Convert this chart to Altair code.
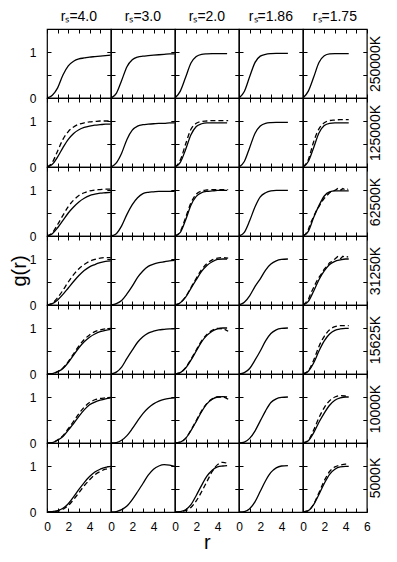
import altair as alt
import pandas as pd

COLUMN_LABELS = ["rₛ=4.0", "rₛ=3.0", "rₛ=2.0", "rₛ=1.86", "rₛ=1.75"]
ROW_LABELS = ["250000K", "125000K", "62500K", "31250K", "15625K", "10000K", "5000K"]

X_TICKS = [0, 1, 2, 3, 4, 5, 6]
Y_TICKS = [0, 0.5, 1]

# r grids (per column)
R_A = [0, 0.5, 1, 1.5, 2, 2.5, 3, 3.5, 4, 4.5, 5, 5.5, 6]
R_B = [0, 0.5, 1, 1.5, 2, 2.5, 3, 3.5, 4, 4.5, 4.9]
R_B_DASH = [0, 0.5, 1, 1.5, 2, 2.5, 3, 3.5, 4, 4.5, 5.0]
R_C = [0, 0.5, 1, 1.5, 2, 2.5, 3, 3.5, 4, 4.6]
R_D = [0, 0.5, 1, 1.5, 2, 2.5, 3, 3.5, 4, 4.3]
R_D_FINE = [0, 0.25, 0.5, 0.75, 1, 1.25, 1.5, 1.75, 2, 2.25, 2.5, 2.75, 3, 3.25, 3.5, 3.75, 4, 4.25]

# column rs=4.0
SOLID_C0 = [
    [0, 0.06, 0.22, 0.5, 0.7, 0.8, 0.85, 0.87, 0.89, 0.9, 0.91, 0.92, 0.93],
    [0, 0.06, 0.22, 0.42, 0.6, 0.73, 0.81, 0.86, 0.89, 0.91, 0.92, 0.93, 0.93],
    [0, 0.05, 0.18, 0.34, 0.5, 0.63, 0.74, 0.82, 0.88, 0.91, 0.93, 0.94, 0.95],
    [0, 0.03, 0.11, 0.23, 0.37, 0.51, 0.64, 0.75, 0.83, 0.88, 0.92, 0.95, 0.96],
    [0, 0.01, 0.05, 0.12, 0.25, 0.41, 0.57, 0.7, 0.8, 0.87, 0.92, 0.95, 0.97],
    [0, 0.01, 0.06, 0.14, 0.28, 0.42, 0.58, 0.72, 0.83, 0.89, 0.93, 0.96, 0.98],
    [0, 0.01, 0.03, 0.08, 0.18, 0.33, 0.49, 0.64, 0.77, 0.87, 0.93, 0.97, 0.99],
]
DASHED_C0 = [
    None,
    [0, 0.1, 0.35, 0.6, 0.77, 0.87, 0.93, 0.96, 0.98, 0.99, 1.0, 1.0, 1.01],
    [0, 0.07, 0.25, 0.45, 0.64, 0.78, 0.88, 0.94, 0.98, 1.0, 1.01, 1.02, 1.02],
    [0, 0.04, 0.16, 0.32, 0.5, 0.66, 0.79, 0.88, 0.95, 0.99, 1.02, 1.03, 1.03],
    [0, 0.01, 0.05, 0.13, 0.27, 0.44, 0.61, 0.75, 0.85, 0.92, 0.96, 0.98, 0.99],
    [0, 0.01, 0.07, 0.16, 0.31, 0.47, 0.64, 0.78, 0.88, 0.94, 0.97, 0.98, 0.99],
    [0, 0.01, 0.02, 0.06, 0.14, 0.27, 0.42, 0.57, 0.7, 0.81, 0.88, 0.93, 0.95],
]

# column rs=3.0
SOLID_C1 = [
    [0, 0.1, 0.38, 0.68, 0.83, 0.89, 0.91, 0.92, 0.93, 0.94, 0.95, 0.96, 0.96],
    [0, 0.09, 0.3, 0.6, 0.8, 0.89, 0.92, 0.93, 0.94, 0.95, 0.95, 0.96, 0.96],
    [0, 0.05, 0.22, 0.47, 0.68, 0.83, 0.92, 0.95, 0.96, 0.97, 0.97, 0.97, 0.97],
    [0, 0.03, 0.1, 0.24, 0.41, 0.6, 0.74, 0.84, 0.89, 0.92, 0.94, 0.96, 0.97],
    [0, 0.04, 0.15, 0.34, 0.52, 0.69, 0.81, 0.89, 0.93, 0.96, 0.97, 0.98, 0.98],
    [0, 0.01, 0.06, 0.16, 0.31, 0.48, 0.64, 0.76, 0.85, 0.91, 0.95, 0.97, 0.98],
    [0, 0.01, 0.05, 0.13, 0.27, 0.44, 0.62, 0.8, 0.93, 1.0, 1.03, 1.02, 0.99],
]

# column rs=2.0
SOLID_C2 = [
    [0, 0.15, 0.45, 0.76, 0.9, 0.95, 0.96, 0.965, 0.965, 0.965, 0.965],
    [0, 0.1, 0.38, 0.7, 0.88, 0.94, 0.96, 0.96, 0.96, 0.96, 0.96],
    [0, 0.08, 0.35, 0.67, 0.86, 0.94, 0.97, 0.98, 0.99, 0.99, 0.99],
    [0, 0.05, 0.17, 0.36, 0.55, 0.73, 0.86, 0.94, 0.99, 1.0, 1.0],
    [0, 0.03, 0.13, 0.3, 0.5, 0.7, 0.84, 0.93, 0.98, 1.0, 1.0],
    [0, 0.02, 0.1, 0.27, 0.47, 0.68, 0.85, 0.95, 1.0, 1.01, 1.0],
    [0, 0.01, 0.05, 0.16, 0.36, 0.58, 0.78, 0.91, 0.98, 1.0, 1.01],
]
DASHED_C2 = [
    None,
    [0, 0.15, 0.5, 0.82, 0.95, 0.99, 1.0, 1.01, 1.01, 1.01, 1.01],
    [0, 0.1, 0.4, 0.72, 0.91, 0.98, 1.0, 1.01, 1.01, 1.01, 1.01],
    [0, 0.05, 0.18, 0.38, 0.58, 0.77, 0.9, 0.98, 1.02, 1.03, 1.02],
    [0, 0.03, 0.14, 0.32, 0.52, 0.72, 0.86, 0.95, 0.99, 0.98, 0.93],
    [0, 0.02, 0.1, 0.28, 0.49, 0.7, 0.86, 0.96, 1.0, 1.0, 0.95],
    [0, 0.01, 0.03, 0.1, 0.24, 0.44, 0.66, 0.88, 1.03, 1.08, 1.05],
]

# column rs=1.86
SOLID_C3 = [
    [0, 0.14, 0.46, 0.77, 0.91, 0.95, 0.965, 0.97, 0.97, 0.97],
    [0, 0.12, 0.42, 0.73, 0.89, 0.95, 0.965, 0.97, 0.97, 0.97],
    [0, 0.08, 0.33, 0.63, 0.85, 0.94, 0.98, 0.99, 0.99, 0.99],
    [0, 0.06, 0.2, 0.4, 0.57, 0.76, 0.89, 0.96, 0.99, 1.0],
    [0, 0.03, 0.12, 0.3, 0.5, 0.72, 0.88, 0.96, 0.99, 1.0],
    [0, 0.02, 0.1, 0.26, 0.48, 0.7, 0.88, 0.96, 0.99, 1.0],
    [0, 0.01, 0.07, 0.22, 0.45, 0.68, 0.86, 0.96, 1.0, 1.01],
]

# column rs=1.75
SOLID_C4 = [
    [0, 0.15, 0.45, 0.77, 0.92, 0.96, 0.965, 0.965, 0.965, 0.965],
    [0, 0.12, 0.42, 0.74, 0.9, 0.95, 0.96, 0.96, 0.96, 0.96],
    [0, 0.1, 0.4, 0.66, 0.87, 0.96, 0.98, 0.98, 0.98, 0.98],
    [0, 0.08, 0.3, 0.55, 0.74, 0.88, 0.95, 0.98, 1.0, 1.0],
    [0, 0.06, 0.24, 0.5, 0.72, 0.87, 0.95, 0.98, 0.99, 0.99],
    [0, 0.05, 0.22, 0.45, 0.65, 0.82, 0.93, 0.98, 1.0, 1.0],
    [0, 0.03, 0.16, 0.38, 0.62, 0.82, 0.93, 0.98, 0.99, 0.99],
]
DASHED_C4 = [
    None,
    [0, 0.16, 0.55, 0.83, 0.96, 1.01, 1.02, 1.03, 1.03, 1.03],
    None,
    None,
    [0, 0.07, 0.3, 0.6, 0.82, 0.96, 1.03, 1.05, 1.05, 1.05],
    [0, 0.06, 0.28, 0.55, 0.77, 0.92, 1.0, 1.03, 1.02, 1.01],
    [0, 0.03, 0.17, 0.42, 0.68, 0.88, 0.98, 1.02, 1.04, 1.04],
]
# noisy dashed curves (rs=1.75, 62500K and 31250K) on the fine grid
DASHED_C4_FINE_ROW2 = [0, 0.04, 0.14, 0.3, 0.42, 0.55, 0.64, 0.74, 0.82, 0.88, 0.94, 0.98, 0.99, 1.03, 0.99, 1.03, 1.0, 1.02]
DASHED_C4_FINE_ROW3 = [0, 0.05, 0.12, 0.26, 0.38, 0.5, 0.6, 0.68, 0.78, 0.84, 0.92, 0.95, 1.0, 1.05, 1.0, 1.06, 1.03, 1.05]

FONT = "Liberation Sans"


def panel_curves(row, col):
    """Return (r_solid, g_solid, r_dash, g_dash, dash_interp)."""
    if col == 0:
        return R_A, SOLID_C0[row], R_A, DASHED_C0[row], "monotone"
    if col == 1:
        return R_A, SOLID_C1[row], None, None, "monotone"
    if col == 2:
        return R_B, SOLID_C2[row], R_B_DASH, DASHED_C2[row], "monotone"
    if col == 3:
        return R_C, SOLID_C3[row], None, None, "monotone"
    if row == 2:
        return R_D, SOLID_C4[row], R_D_FINE, DASHED_C4_FINE_ROW2, "linear"
    if row == 3:
        return R_D, SOLID_C4[row], R_D_FINE, DASHED_C4_FINE_ROW3, "linear"
    return R_D, SOLID_C4[row], R_D, DASHED_C4[row], "monotone"


def make_panel(row, col):
    rs, gs, rd, gd, dinterp = panel_curves(row, col)
    recs = [{"r": a, "g": b, "kind": "solid"} for a, b in zip(rs, gs)]
    if gd is not None:
        recs += [{"r": a, "g": b, "kind": "dashed"} for a, b in zip(rd, gd)]
    df = pd.DataFrame(recs)

    xscale = alt.Scale(domain=[0, 6], nice=False, zero=False)
    yscale = alt.Scale(domain=[0, 1.5], nice=False, zero=False)

    last_row = row == 6
    if col == 4:
        xexpr = "datum.value % 2 == 0 ? datum.label : ''"
    else:
        xexpr = "datum.value % 2 == 0 && datum.value < 6 ? datum.label : ''"

    common = dict(tickSize=4, offset=-4, domain=False, grid=False, minExtent=0,
                  tickColor="black", tickWidth=1)

    bottom_kw = dict(orient="bottom", values=X_TICKS, labels=last_row, labelExpr=xexpr,
                     labelFlush=False, labelOverlap=False, labelPadding=9, labelFontSize=12,
                     labelFont=FONT, labelColor="black", format="~g", **common)
    if last_row and col == 2:
        bottom_kw.update(title="r", titleFontSize=20, titleFontWeight="normal", titleFont=FONT,
                         titleColor="black", titlePadding=0)
    else:
        bottom_kw.update(title=None)

    left_kw = dict(orient="left", values=Y_TICKS, labels=(col == 0),
                   labelExpr="datum.value == 0 || datum.value == 1 ? datum.label : ''",
                   labelFlush=False, labelOverlap=False, labelPadding=11, labelFontSize=12,
                   labelFont=FONT, labelColor="black", format="~g", **common)
    if col == 0 and row == 3:
        left_kw.update(title="g(r)", titleFontSize=20, titleFontWeight="normal", titleFont=FONT,
                       titleColor="black", titlePadding=0)
    else:
        left_kw.update(title=None)

    top_kw = dict(orient="top", values=X_TICKS, labels=False, title=None, **common)
    right_kw = dict(orient="right", values=Y_TICKS, labels=False, **common)
    if col == 4:
        right_kw.update(title=ROW_LABELS[row], titleAngle=270, titleFontSize=14,
                        titleFontWeight="normal", titleFont=FONT, titleColor="black",
                        titlePadding=15)
    else:
        right_kw.update(title=None)

    solid = alt.Chart(df).transform_filter(alt.datum.kind == "solid").mark_line(
        color="black", strokeWidth=1.3, interpolate="monotone", clip=True
    ).encode(
        x=alt.X("r:Q", scale=xscale, axis=alt.Axis(**bottom_kw)),
        y=alt.Y("g:Q", scale=yscale, axis=alt.Axis(**left_kw)),
    )
    dashed = alt.Chart(df).transform_filter(alt.datum.kind == "dashed").mark_line(
        color="black", strokeWidth=1.3, strokeDash=[5, 3], interpolate=dinterp, clip=True
    ).encode(
        x=alt.X("r:Q", scale=xscale, axis=alt.Axis(**top_kw)),
        y=alt.Y("g:Q", scale=yscale, axis=alt.Axis(**right_kw)),
    )
    props = dict(width=63.8, height=69)
    if row == 0:
        props["title"] = alt.TitleParams(COLUMN_LABELS[col], fontSize=14, fontWeight="normal",
                                         font=FONT, color="black", offset=5, anchor="middle",
                                         frame="group")
    return alt.layer(solid, dashed).resolve_scale(x="independent", y="independent").properties(**props)


panels = [make_panel(r, c) for r in range(7) for c in range(5)]

chart = alt.concat(*panels, columns=5, spacing=0, bounds="flush").properties(
    padding={"left": 0, "top": 0, "right": 0, "bottom": 0}
).configure(
    font=FONT, background="white",
    view=alt.ViewConfig(stroke="black", strokeWidth=1.2),
)

chart.save("out.html", embed_options={"renderer": "svg", "actions": False})
